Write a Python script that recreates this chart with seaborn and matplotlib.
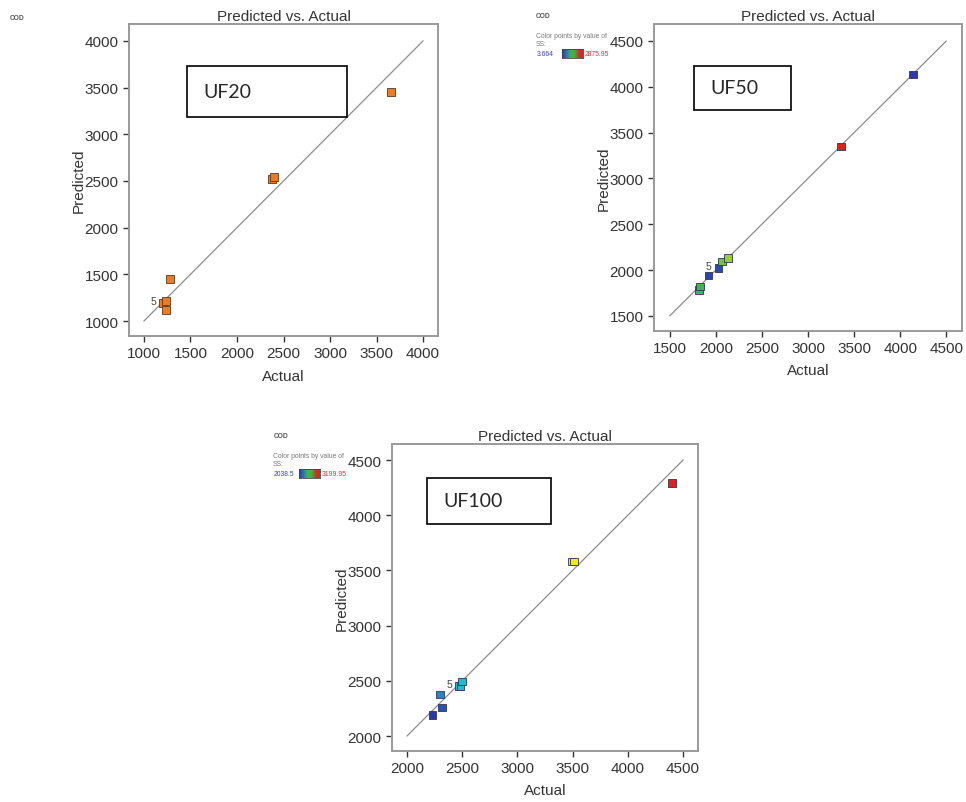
"""
Predicted vs. Actual plots for COD (UF20, UF50, UF100)
"""
import numpy as np
import pandas as pd
import matplotlib
matplotlib.use("Agg")
import matplotlib.pyplot as plt
from matplotlib.colors import LinearSegmentedColormap
from matplotlib.patches import Rectangle
import seaborn as sns

sns.set_style("ticks")
plt.rcParams["font.family"] = ["Liberation Sans", "DejaVu Sans"]

# ---------- data ----------
uf20_actual = [1210, 1235, 1240, 1280, 2380, 2400, 3650]
uf20_pred = [1195, 1210, 1115, 1450, 2520, 2545, 3450]

uf50_actual = [1815, 1830, 1920, 2030, 2070, 2130, 3355, 4140]
uf50_pred = [1785, 1820, 1940, 2025, 2095, 2130, 3350, 4135]
uf50_ss = [1350, 1400, 60, 100, 1650, 1800, 2875.95, 3.664]
uf50_ss_range = (3.664, 2875.95)

uf100_actual = [2230, 2320, 2300, 2470, 2485, 2500, 3490, 3515, 4400]
uf100_pred = [2190, 2260, 2375, 2455, 2450, 2495, 3580, 3580, 4290]
uf100_ss = [2038.5, 2096, 2213, 2329, 2329, 2340, 2910, 2910, 3199.95]
uf100_ss_range = (2038.5, 3199.95)

ss_cmap = LinearSegmentedColormap.from_list(
    "ss", ["#2b3aa8", "#1fbad6", "#3bb54a", "#f0ee10", "#e0201c"])
bar_cmap = LinearSegmentedColormap.from_list(
    "bar", ["#2b3aa8", "#2b6fc0", "#3bb54a", "#3bb54a", "#c03a2a", "#e0201c"])

W, H = 966, 803


def fx(px):
    return px / W


def fy(py):
    return 1 - py / H


fig = plt.figure(figsize=(9.66, 8.03), dpi=100)

panels = [
    dict(name="UF20", rect=(129, 25, 438, 337), lim=(840, 4160, 840, 4180),
         ticks=[1000, 1500, 2000, 2500, 3000, 3500, 4000],
         yticks=[1000, 1500, 2000, 2500, 3000, 3500, 4000],
         line=(1000, 4000), x=uf20_actual, y=uf20_pred, ss=None, rng=None,
         five=0, box=(187, 67, 347, 118), text_x=203, cod=(17, 18), legend=None),
    dict(name="UF50", rect=(654, 25, 962, 332), lim=(1330, 4670, 1335, 4685),
         ticks=[1500, 2000, 2500, 3000, 3500, 4000, 4500],
         yticks=[1500, 2000, 2500, 3000, 3500, 4000, 4500],
         line=(1500, 4500), x=uf50_actual, y=uf50_pred, ss=uf50_ss, rng=uf50_ss_range,
         five=3, box=(694, 67, 791, 111), text_x=710, cod=(543, 17), legend=(536, 33)),
    dict(name="UF100", rect=(392, 445, 698, 752), lim=(1865, 4635, 1865, 4645),
         ticks=[2000, 2500, 3000, 3500, 4000, 4500],
         yticks=[2000, 2500, 3000, 3500, 4000, 4500],
         line=(2000, 4500), x=uf100_actual, y=uf100_pred, ss=uf100_ss, rng=uf100_ss_range,
         five=3, box=(427, 479, 551, 525), text_x=443, cod=(281, 437), legend=(273, 453)),
]

for p in panels:
    l, t, r, b = p["rect"]
    ax = fig.add_axes([fx(l), fy(b), fx(r) - fx(l), fy(t) - fy(b)])
    lo, hi = p["line"]
    ax.plot([lo, hi], [lo, hi], color="#8c8c8c", lw=0.9, zorder=1)

    df = pd.DataFrame({"Actual": p["x"], "Predicted": p["y"]})
    if p["ss"] is None:
        sns.scatterplot(data=df, x="Actual", y="Predicted", ax=ax, marker="s", s=30,
                        color="#ee7a22", edgecolor="#5a3a20", linewidth=0.6, zorder=3)
    else:
        df["SS"] = p["ss"]
        sns.scatterplot(data=df, x="Actual", y="Predicted", hue="SS", palette=ss_cmap,
                        hue_norm=p["rng"], ax=ax, marker="s", s=30, edgecolor="#333355",
                        linewidth=0.6, legend=False, zorder=3)

    i = p["five"]
    ax.annotate("5", (p["x"][i], p["y"][i]), textcoords="offset points", xytext=(-5, 1),
                ha="right", va="center", fontsize=7.5, color="#444444")

    ax.set_xlim(p["lim"][0], p["lim"][1])
    ax.set_ylim(p["lim"][2], p["lim"][3])
    ax.set_xticks(p["ticks"])
    ax.set_yticks(p["yticks"])
    ax.tick_params(labelsize=11, colors="#333333", length=4, width=1, direction="out")
    for sp in ax.spines.values():
        sp.set_visible(True)
        sp.set_color("#9a9a9a")
        sp.set_linewidth(1.4)
    ax.set_title("Predicted vs. Actual", fontsize=11, color="#333333", pad=3)
    ax.set_xlabel("Actual", fontsize=11, color="#333333")
    ax.set_ylabel("Predicted", fontsize=11, color="#333333")
    ax.xaxis.set_label_coords(0.5, -0.105)
    ax.yaxis.set_label_coords(-0.14, 0.5)

    # label box
    bl, bt, br, bb = p["box"]
    fig.patches.append(Rectangle((fx(bl), fy(bb)), fx(br) - fx(bl), fy(bt) - fy(bb),
                                 transform=fig.transFigure, fill=True, facecolor="white",
                                 edgecolor="black", lw=1.2, zorder=5))
    fig.text(fx(p["text_x"]), fy((bt + bb) / 2), p["name"], fontsize=14,
             family=["Lato", "DejaVu Sans"], ha="left", va="center", zorder=6)

    # design-expert style header
    fig.text(fx(p["cod"][0]), fy(p["cod"][1]), "COD", fontsize=4.8, weight="bold",
             color="#555555", ha="center", va="center")
    if p["legend"] is not None:
        lx, ly = p["legend"]
        fig.text(fx(lx), fy(ly), "Color points by value of\nSS:", fontsize=4.9,
                 color="#777777", ha="left", va="top", linespacing=1.15)
        fig.text(fx(lx + 1), fy(ly + 22), f"{p['rng'][0]:g}", fontsize=4.9,
                 color="#3a40c0", ha="left", va="center")
        cax = fig.add_axes([fx(lx + 26), fy(ly + 26), fx(21), 9 / H])
        cax.imshow(np.linspace(0, 1, 64)[None, :], aspect="auto", cmap=bar_cmap)
        cax.set_xticks([])
        cax.set_yticks([])
        for sp in cax.spines.values():
            sp.set_color("#444444")
            sp.set_linewidth(0.6)
        fig.text(fx(lx + 49), fy(ly + 22), f"{p['rng'][1]:g}", fontsize=4.9,
                 color="#e03030", ha="left", va="center")

plt.savefig("out.png", dpi=100)
plt.close()
